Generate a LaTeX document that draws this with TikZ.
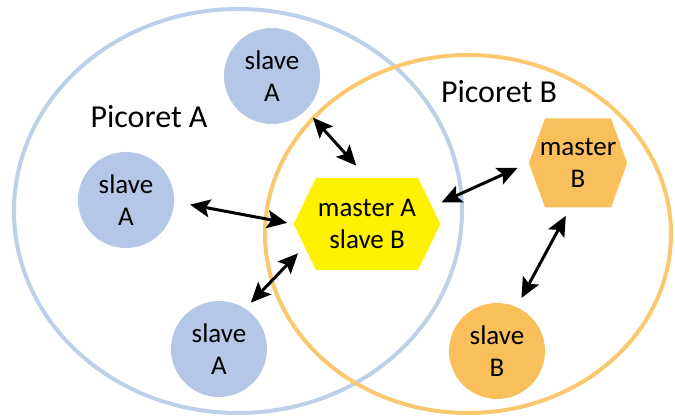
\documentclass[tikz,border=0pt]{standalone}
\usepackage{fontspec}
\setmainfont{Carlito}
\usetikzlibrary{shapes.geometric, shapes.symbols, arrows.meta}
\definecolor{picoblue}{RGB}{180,199,231}
\definecolor{ringblue}{RGB}{190,207,234}
\definecolor{picoorange}{RGB}{248,191,90}
\definecolor{ringorange}{RGB}{250,200,110}

\begin{document}
\begin{tikzpicture}[x=0.5pt, y=0.5pt,
ring/.style = {ellipse, draw, line width=2pt, inner sep=0pt},
dev/.style = {circle, minimum size=48pt, inner sep=0pt, align=center,
      font=\fontsize{13.5}{16}\selectfont},
hexa/.style = {signal, signal to=east and west, inner sep=0pt, align=center,
      font=\fontsize{13.5}{16}\selectfont},
title/.style = {font=\fontsize{16}{19}\selectfont},
link/.style = {{Stealth[length=10pt, width=9pt, inset=2pt]}-{Stealth[length=10pt, width=9pt, inset=2pt]}, line width=1.5pt},]
 \useasboundingbox (0,0) rectangle (675,417);
 % the two picorets
 \node[ring, draw=ringblue, minimum width=224pt, minimum height=202pt] (picoA) at (238,206) {};
 \node[ring, draw=ringorange, minimum width=203pt, minimum height=179pt] (picoB) at (468,183) {};
 \node[title] (labA) at (149,300) {Picoret A};
 \node[title] (labB) at (499,325) {Picoret B};

 % devices
 \node[dev, fill=picoblue] (sa1) at (272,341) {slave\\A};
 \node[dev, fill=picoblue] (sa2) at (126,217) {slave\\A};
 \node[dev, fill=picoblue] (sa3) at (219,68) {slave\\A};
 \node[dev, fill=picoorange] (sb) at (497,66) {slave\\B};
 \node[hexa, fill=yellow, minimum width=73.5pt, minimum height=46pt, signal pointer angle=128] (ma) at (367,193) {master A\\slave B};
 \node[hexa, fill=picoorange, inner xsep=-2.6pt, minimum height=44.5pt, signal pointer angle=140] (mb) at (578,254) {master\\B};

 \draw[link, shorten <=5pt, shorten >=8pt] (sa1.-45) -- (ma.north);
 \draw[link, shorten <=8pt, shorten >=3pt] (sa2.-2) -- (ma.west);
 \draw[link, shorten <=4pt, shorten >=4.5pt] (sa3.57) -- (ma.200);
 \draw[link, shorten <=5pt, shorten >=6pt] (ma.15) -- (mb.west);
 \draw[link, shorten <=5pt, shorten >=4.5pt] (sb.66) -- (mb.260);

\end{tikzpicture}
\end{document}
